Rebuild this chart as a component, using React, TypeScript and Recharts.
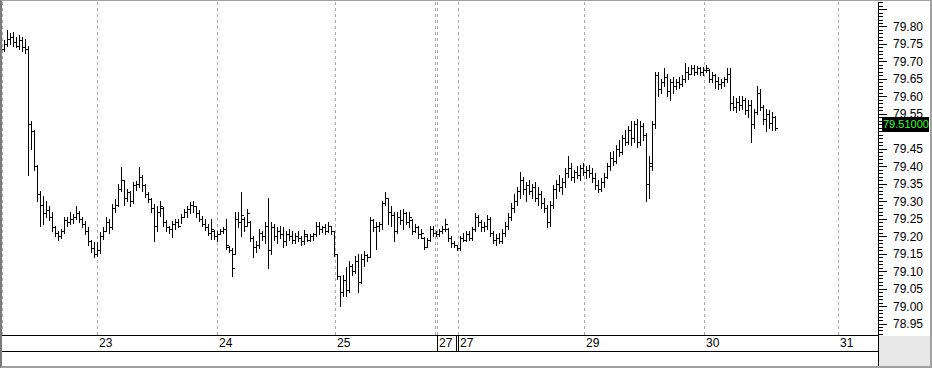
import { ComposedChart, Bar, XAxis, YAxis, CartesianGrid, ReferenceLine } from 'recharts';

// 30-min style OHLC bars, [open, high, low, close], one array per session
const bars22 = [
  [79.735, 79.76, 79.73, 79.75], [79.75, 79.79, 79.745, 79.765], [79.765, 79.78, 79.75, 79.77],
  [79.77, 79.785, 79.745, 79.755], [79.755, 79.77, 79.74, 79.745], [79.745, 79.775, 79.735, 79.76],
  [79.76, 79.77, 79.73, 79.74], [79.74, 79.765, 79.725, 79.735], [79.735, 79.745, 79.375, 79.52],
  [79.52, 79.53, 79.45, 79.5], [79.5, 79.505, 79.39, 79.4], [79.4, 79.405, 79.3, 79.32],
  [79.32, 79.33, 79.23, 79.29], [79.29, 79.315, 79.235, 79.265], [79.265, 79.3, 79.255, 79.275],
  [79.275, 79.285, 79.245, 79.255], [79.255, 79.27, 79.215, 79.225], [79.225, 79.23, 79.2, 79.21],
  [79.21, 79.215, 79.19, 79.2], [79.2, 79.22, 79.195, 79.215], [79.215, 79.255, 79.21, 79.245],
  [79.245, 79.255, 79.23, 79.24], [79.24, 79.27, 79.235, 79.25], [79.25, 79.262, 79.238, 79.255],
  [79.255, 79.285, 79.25, 79.265], [79.265, 79.272, 79.24, 79.25], [79.25, 79.255, 79.225, 79.235],
  [79.235, 79.242, 79.205, 79.215], [79.215, 79.225, 79.175, 79.185], [79.185, 79.19, 79.155, 79.165],
  [79.165, 79.182, 79.14, 79.15],
];
const bars23 = [
  [79.15, 79.182, 79.142, 79.16], [79.16, 79.213, 79.152, 79.2], [79.2, 79.225, 79.191, 79.215],
  [79.215, 79.254, 79.214, 79.24], [79.24, 79.248, 79.21, 79.225], [79.225, 79.291, 79.22, 79.28],
  [79.28, 79.305, 79.27, 79.29], [79.29, 79.348, 79.285, 79.335], [79.335, 79.397, 79.33, 79.36],
  [79.36, 79.362, 79.29, 79.31], [79.31, 79.334, 79.3, 79.325], [79.325, 79.33, 79.285, 79.3],
  [79.3, 79.355, 79.295, 79.345], [79.345, 79.358, 79.332, 79.35], [79.35, 79.397, 79.34, 79.37],
  [79.37, 79.375, 79.33, 79.345], [79.345, 79.348, 79.313, 79.32], [79.32, 79.325, 79.297, 79.305],
  [79.305, 79.31, 79.27, 79.28], [79.28, 79.291, 79.185, 79.23], [79.23, 79.285, 79.214, 79.27],
  [79.27, 79.3, 79.257, 79.285], [79.28, 79.283, 79.228, 79.24], [79.24, 79.245, 79.214, 79.225],
  [79.225, 79.228, 79.21, 79.22], [79.22, 79.242, 79.197, 79.235], [79.235, 79.248, 79.22, 79.24],
  [79.24, 79.25, 79.225, 79.23], [79.23, 79.262, 79.237, 79.255], [79.255, 79.277, 79.255, 79.27],
  [79.27, 79.285, 79.255, 79.278], [79.278, 79.297, 79.265, 79.29], [79.29, 79.3, 79.27, 79.285],
  [79.285, 79.285, 79.256, 79.265], [79.265, 79.275, 79.242, 79.25], [79.25, 79.257, 79.228, 79.235],
  [79.235, 79.248, 79.219, 79.225], [79.225, 79.234, 79.202, 79.21], [79.21, 79.248, 79.191, 79.22],
  [79.215, 79.218, 79.191, 79.2],
];
const bars24 = [
  [79.2, 79.214, 79.185, 79.205], [79.205, 79.22, 79.205, 79.215], [79.215, 79.225, 79.21, 79.22],
  [79.22, 79.248, 79.162, 79.175], [79.17, 79.172, 79.155, 79.16], [79.16, 79.165, 79.085, 79.11],
  [79.15, 79.268, 79.15, 79.25], [79.25, 79.268, 79.225, 79.24], [79.24, 79.325, 79.2, 79.26],
  [79.25, 79.255, 79.215, 79.23], [79.23, 79.277, 79.228, 79.265], [79.24, 79.242, 79.185, 79.195],
  [79.195, 79.2, 79.14, 79.17], [79.17, 79.185, 79.155, 79.175], [79.175, 79.22, 79.165, 79.21],
  [79.21, 79.215, 79.19, 79.2], [79.2, 79.24, 79.18, 79.23], [79.23, 79.31, 79.11, 79.16],
  [79.16, 79.24, 79.15, 79.225], [79.225, 79.235, 79.19, 79.2], [79.2, 79.225, 79.18, 79.215],
  [79.215, 79.23, 79.195, 79.205], [79.205, 79.225, 79.17, 79.185], [79.185, 79.215, 79.175, 79.205],
  [79.205, 79.22, 79.19, 79.2], [79.2, 79.215, 79.18, 79.19], [79.19, 79.21, 79.18, 79.2],
  [79.2, 79.215, 79.185, 79.195], [79.195, 79.2, 79.175, 79.185], [79.185, 79.219, 79.177, 79.205],
  [79.2, 79.205, 79.185, 79.19], [79.19, 79.205, 79.185, 79.2], [79.2, 79.21, 79.19, 79.205],
  [79.205, 79.24, 79.2, 79.23], [79.23, 79.24, 79.205, 79.22], [79.22, 79.228, 79.212, 79.225],
  [79.225, 79.234, 79.205, 79.215], [79.215, 79.24, 79.212, 79.23], [79.23, 79.23, 79.205, 79.215],
  [79.215, 79.214, 79.142, 79.15],
];
const bars25 = [
  [79.15, 79.148, 79.076, 79.085], [79.085, 79.085, 79.0, 79.04], [79.04, 79.09, 79.03, 79.075],
  [79.075, 79.113, 79.028, 79.045], [79.045, 79.128, 79.04, 79.115], [79.115, 79.12, 79.09, 79.1],
  [79.1, 79.142, 79.095, 79.13], [79.13, 79.148, 79.04, 79.07], [79.07, 79.148, 79.065, 79.135],
  [79.135, 79.157, 79.115, 79.145], [79.145, 79.15, 79.13, 79.14], [79.14, 79.255, 79.14, 79.245],
  [79.245, 79.25, 79.215, 79.225], [79.225, 79.24, 79.162, 79.23], [79.23, 79.24, 79.215, 79.235],
  [79.235, 79.3, 79.22, 79.295], [79.295, 79.325, 79.29, 79.31], [79.31, 79.31, 79.235, 79.27],
  [79.27, 79.285, 79.23, 79.26], [79.26, 79.268, 79.185, 79.215], [79.215, 79.27, 79.21, 79.255],
  [79.255, 79.275, 79.235, 79.245], [79.245, 79.277, 79.22, 79.265], [79.265, 79.27, 79.235, 79.24],
  [79.24, 79.268, 79.225, 79.255], [79.245, 79.248, 79.205, 79.215], [79.215, 79.234, 79.212, 79.225],
  [79.225, 79.228, 79.195, 79.205], [79.205, 79.22, 79.196, 79.21], [79.195, 79.197, 79.162, 79.17],
  [79.17, 79.195, 79.17, 79.19], [79.19, 79.228, 79.185, 79.22], [79.22, 79.228, 79.2, 79.21],
];
const bars27 = [
  [79.21, 79.214, 79.2, 79.205], [79.205, 79.22, 79.2, 79.215], [79.215, 79.228, 79.21, 79.22],
  [79.22, 79.248, 79.214, 79.235], [79.22, 79.222, 79.185, 79.195], [79.195, 79.2, 79.17, 79.18],
  [79.18, 79.185, 79.168, 79.175], [79.175, 79.176, 79.16, 79.165],
];
const bars28 = [
  [79.165, 79.2, 79.16, 79.195], [79.195, 79.21, 79.185, 79.19], [79.19, 79.215, 79.185, 79.205],
  [79.205, 79.215, 79.19, 79.195], [79.195, 79.225, 79.19, 79.22], [79.22, 79.265, 79.215, 79.255],
  [79.255, 79.26, 79.23, 79.24], [79.24, 79.245, 79.215, 79.225], [79.225, 79.24, 79.215, 79.23],
  [79.23, 79.26, 79.22, 79.25], [79.25, 79.255, 79.2, 79.21], [79.21, 79.215, 79.18, 79.19],
  [79.19, 79.205, 79.175, 79.195], [79.195, 79.21, 79.18, 79.185], [79.185, 79.22, 79.18, 79.21],
  [79.21, 79.24, 79.2, 79.23], [79.23, 79.265, 79.22, 79.255], [79.255, 79.295, 79.245, 79.28],
  [79.28, 79.32, 79.27, 79.3], [79.3, 79.34, 79.29, 79.33], [79.33, 79.385, 79.31, 79.36],
  [79.36, 79.37, 79.32, 79.335], [79.335, 79.355, 79.3, 79.345], [79.345, 79.36, 79.32, 79.33],
  [79.33, 79.35, 79.31, 79.34], [79.34, 79.355, 79.3, 79.31], [79.31, 79.34, 79.29, 79.32],
  [79.32, 79.33, 79.28, 79.295], [79.295, 79.31, 79.27, 79.28], [79.28, 79.29, 79.225, 79.24],
  [79.24, 79.3, 79.23, 79.29], [79.29, 79.345, 79.28, 79.335], [79.335, 79.36, 79.31, 79.35],
  [79.35, 79.375, 79.33, 79.34], [79.34, 79.365, 79.32, 79.355], [79.355, 79.395, 79.34, 79.38],
  [79.38, 79.43, 79.37, 79.395], [79.395, 79.41, 79.36, 79.37], [79.37, 79.39, 79.355, 79.385],
  [79.385, 79.4, 79.365, 79.375], [79.375, 79.405, 79.36, 79.395], [79.395, 79.41, 79.375, 79.385],
];
const bars29 = [
  [79.385, 79.4, 79.365, 79.39], [79.39, 79.405, 79.37, 79.38], [79.38, 79.395, 79.355, 79.365],
  [79.365, 79.38, 79.335, 79.345], [79.345, 79.36, 79.325, 79.335], [79.335, 79.365, 79.33, 79.355],
  [79.355, 79.38, 79.34, 79.37], [79.37, 79.41, 79.365, 79.4], [79.4, 79.44, 79.39, 79.425],
  [79.425, 79.445, 79.405, 79.415], [79.415, 79.46, 79.41, 79.45], [79.45, 79.475, 79.43, 79.44],
  [79.44, 79.49, 79.435, 79.48], [79.48, 79.505, 79.46, 79.47], [79.47, 79.515, 79.465, 79.505],
  [79.505, 79.53, 79.46, 79.48], [79.48, 79.53, 79.47, 79.52], [79.52, 79.535, 79.455, 79.47],
  [79.47, 79.53, 79.46, 79.515], [79.515, 79.525, 79.475, 79.49], [79.49, 79.495, 79.3, 79.35],
  [79.35, 79.43, 79.31, 79.41], [79.4, 79.53, 79.39, 79.52], [79.52, 79.67, 79.51, 79.66],
  [79.66, 79.67, 79.6, 79.62], [79.62, 79.65, 79.61, 79.64], [79.64, 79.68, 79.63, 79.655],
  [79.655, 79.665, 79.6, 79.615], [79.615, 79.65, 79.59, 79.64], [79.64, 79.655, 79.61, 79.63],
  [79.63, 79.65, 79.62, 79.64], [79.64, 79.655, 79.625, 79.635], [79.635, 79.66, 79.63, 79.65],
  [79.65, 79.695, 79.64, 79.67], [79.67, 79.685, 79.65, 79.665], [79.665, 79.69, 79.665, 79.68],
  [79.68, 79.69, 79.66, 79.67], [79.67, 79.688, 79.665, 79.68], [79.68, 79.685, 79.66, 79.67],
  [79.67, 79.685, 79.66, 79.675],
];
const bars30 = [
  [79.675, 79.69, 79.67, 79.68], [79.675, 79.677, 79.64, 79.65], [79.65, 79.67, 79.64, 79.66],
  [79.66, 79.665, 79.625, 79.645], [79.645, 79.655, 79.62, 79.635], [79.635, 79.65, 79.625, 79.64],
  [79.64, 79.655, 79.63, 79.65], [79.65, 79.68, 79.64, 79.665], [79.665, 79.68, 79.56, 79.58],
  [79.58, 79.6, 79.56, 79.57], [79.57, 79.595, 79.555, 79.585], [79.585, 79.6, 79.56, 79.575],
  [79.575, 79.6, 79.565, 79.59], [79.59, 79.595, 79.55, 79.56], [79.56, 79.59, 79.54, 79.575],
  [79.575, 79.59, 79.47, 79.52], [79.52, 79.565, 79.51, 79.555], [79.555, 79.63, 79.55, 79.61],
  [79.61, 79.62, 79.56, 79.57], [79.57, 79.575, 79.52, 79.535], [79.535, 79.565, 79.5, 79.55],
  [79.55, 79.56, 79.51, 79.525], [79.525, 79.555, 79.505, 79.54], [79.54, 79.545, 79.505, 79.51],
];

// day boundaries, in bar units
const dayTicks = [31, 71, 331 / 3, 433 / 3, 454 / 3, 580 / 3, 700 / 3, 278];
const dayLabels = ['23', '24', '25', '27', '27', '29', '30', '31'];
const extraBreaks = [431 / 3];
// 79.50 sits under the last-price tag, so it is not labelled
const yTickLabels = [
  '79.80', '79.75', '79.70', '79.65', '79.60', '79.55', '79.45', '79.40',
  '79.35', '79.30', '79.25', '79.20', '79.15', '79.10', '79.05', '79.00', '78.95',
];
const lastPrice = 79.51;
const lastPriceText = '79.51000';

const data = [bars22, bars23, bars24, bars25, bars27, bars28, bars29, bars30]
  .flat()
  .map(([o, h, l, c], i) => ({ i, o, h, l, c, range: [l, h] }));

// minor ticks every 0.01
const priceTicks: number[] = [];
for (let k = 7892; k <= 7987; k++) priceTicks.push(k / 100);

const FONT = "'Liberation Sans', Arial, sans-serif";

function OhlcBar(props: any) {
  const { x, y, width, height, payload } = props;
  if (!payload) return null;
  const { o, h, l, c } = payload;
  const cx = Math.round(x + width / 2);
  const top = Math.min(y, y + height);
  const px = Math.abs(height);
  const at = (v: number) => Math.round(top + (h - l === 0 ? 0 : ((h - v) / (h - l)) * px));
  const yTop = Math.round(top);
  const yBot = Math.round(top + px);
  return (
    <g shapeRendering="crispEdges" fill="#000">
      <rect x={cx} y={yTop} width={1} height={Math.max(1, yBot - yTop + 1)} />
      <rect x={cx - 2} y={at(o)} width={2} height={1} />
      <rect x={cx + 1} y={at(c)} width={2} height={1} />
    </g>
  );
}

function PriceTick(props: any) {
  const { x, y, payload } = props;
  const v = payload.value as number;
  const major = Math.round(v * 100) % 5 === 0;
  const label = v.toFixed(2);
  const yy = Math.round(y) + 0.5;
  return (
    <g>
      <line x1={x} x2={x + (major ? 9 : 5)} y1={yy} y2={yy} stroke="#000" shapeRendering="crispEdges" />
      {major && yTickLabels.includes(label) && (
        <text x={x + 15} y={y + 4.5} fontSize={12} fontFamily={FONT} fill="#000">
          {label}
        </text>
      )}
    </g>
  );
}

function DayTick(props: any) {
  const { x, y, index } = props;
  const px = Math.round(x) + 0.5;
  return (
    <g shapeRendering="crispEdges">
      {index === 3 && <line x1={px} x2={px} y1={y} y2={y + 16} stroke="#000" />}
      {index === 4 && <line x1={px - 2} x2={px - 2} y1={y} y2={y + 16} stroke="#000" />}
      {index === 4 && <line x1={px} x2={px} y1={y} y2={y + 16} stroke="#000" />}
      <text x={Math.round(x) + 2} y={y + 12} fontSize={12} fontFamily={FONT} fill="#000">
        {dayLabels[index]}
      </text>
    </g>
  );
}

function gridLine(p: any) {
  const xx = Math.round(p.x1) + 0.5;
  return (
    <line
      key={`g-${p.index ?? p.x1}`}
      x1={xx}
      x2={xx}
      y1={p.y1}
      y2={p.y2}
      stroke="#a9a9a9"
      strokeDasharray="3 3"
      shapeRendering="crispEdges"
    />
  );
}

function PriceTag(props: any) {
  const vb = props.viewBox || {};
  const left = vb.x + vb.width + 4;
  const cy = Math.round(vb.y);
  return (
    <g>
      <rect x={left} y={cy - 11} width={47} height={15} fill="#000" />
      <text x={left + 1} y={cy} fontSize={11} fontFamily={FONT} fill="#33ff33">
        {lastPriceText}
      </text>
    </g>
  );
}

export default function App() {
  return (
    <div style={{ position: 'fixed', left: 0, top: 0, width: 932, height: 368, background: '#fff' }}>
      <ComposedChart
        width={932}
        height={368}
        data={data}
        margin={{ top: 2, right: 0, bottom: 17, left: 2 }}
      >
        <CartesianGrid horizontal={false} vertical={gridLine} />
        <XAxis
          dataKey="i"
          type="number"
          domain={[-2 / 3, 874 / 3]}
          allowDataOverflow
          ticks={dayTicks}
          interval={0}
          tick={<DayTick />}
          tickLine={false}
          tickSize={0}
          tickMargin={0}
          height={16}
          axisLine={{ stroke: '#000', shapeRendering: 'crispEdges' }}
        />
        <YAxis
          orientation="right"
          type="number"
          width={54}
          domain={[78.9171, 79.8701]}
          allowDataOverflow
          ticks={priceTicks}
          interval={0}
          tick={<PriceTick />}
          tickLine={false}
          tickSize={0}
          tickMargin={0}
          axisLine={{ stroke: '#000', shapeRendering: 'crispEdges' }}
        />
        {extraBreaks.map((b) => (
          <ReferenceLine key={b} x={b} shape={gridLine} />
        ))}
        <Bar dataKey="range" barSize={2} shape={<OhlcBar />} isAnimationActive={false} />
        <ReferenceLine y={lastPrice} stroke="none" label={<PriceTag />} />
      </ComposedChart>
      {/* date strip bottom line, right gray panel, frame */}
      <div style={{ position: 'absolute', left: 2, top: 351, width: 876, height: 1, background: '#000' }} />
      <div style={{ position: 'absolute', left: 878, top: 335, width: 1, height: 31, background: '#000' }} />
      <div style={{ position: 'absolute', left: 879, top: 336, width: 51, height: 30, background: '#e8e8e8' }} />
      <div
        style={{
          position: 'absolute',
          left: 0,
          top: 0,
          width: 932,
          height: 368,
          boxSizing: 'border-box',
          borderLeft: '2px solid #7a7a7a',
          borderTop: '1px solid #a0a0a0',
          borderRight: '2px solid #a0a0a0',
          borderBottom: '2px solid #a0a0a0',
          pointerEvents: 'none',
        }}
      />
    </div>
  );
}
